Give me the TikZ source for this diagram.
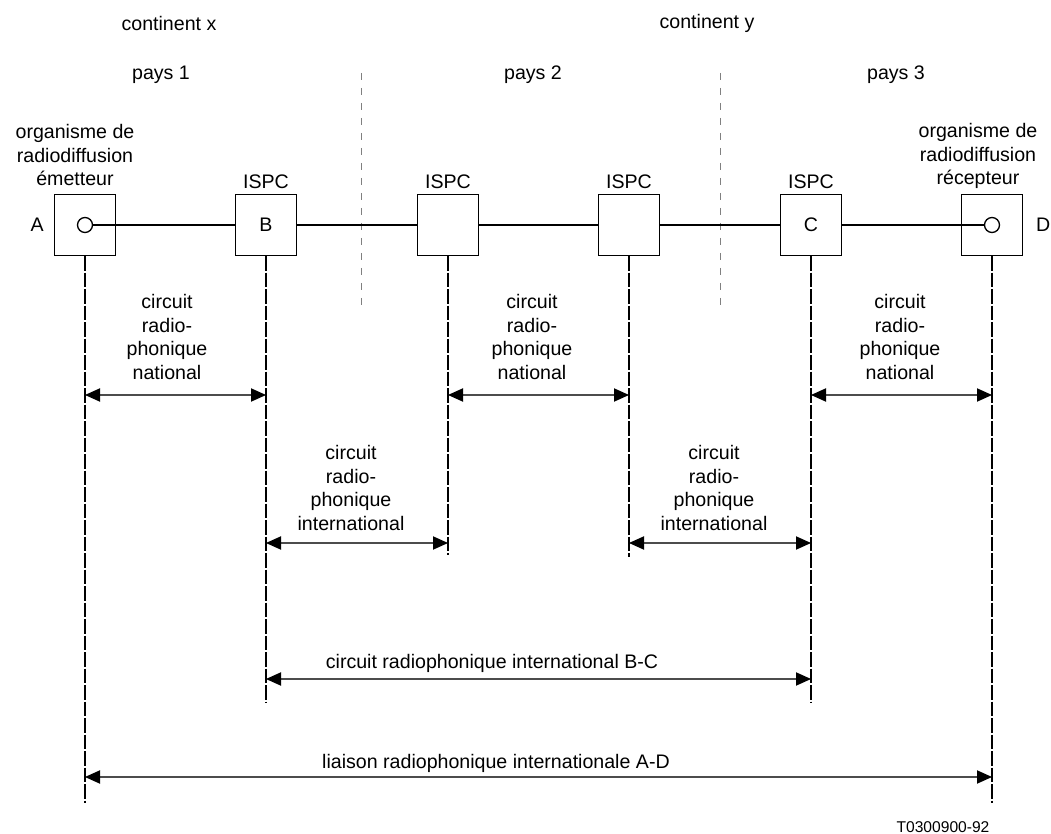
\documentclass[tikz,border=0pt]{standalone}
\usepackage{fontspec}
\setmainfont{Liberation Sans}
\usetikzlibrary{positioning,arrows.meta}

\tikzset{
  station/.style={draw, line width=0.65pt, minimum size=30.5pt, inner sep=0pt, fill=white},
  port/.style={draw, circle, line width=0.65pt, minimum size=7.5pt, inner sep=0pt, fill=white},
  feed/.style={line width=1pt},
  drop/.style={line width=1pt, dash pattern=on 7.25pt off 1pt},
  border/.style={gray, line width=0.5pt, dash pattern=on 3.5pt off 4pt},
  span/.style={{Triangle[length=7.5pt,width=6.6pt,color=black]}-{Triangle[length=7.5pt,width=6.6pt,color=black]}, line width=0.6pt, black!70},
  lbl/.style={align=center, inner sep=0pt},
}

\begin{document}
\begin{tikzpicture}[x=0.5pt, y=-0.5pt, font=\fontsize{9.8}{11.75}\selectfont]
\useasboundingbox (0,0) rectangle (1051,834);

% headings
\node (contX) at (169,23) {continent x};
\node (contY) at (707,23) {continent y};
\node (pays1) at (161,75) {pays 1};
\node (pays2) at (533,75) {pays 2};
\node (pays3) at (896,75) {pays 3};

% country borders
\draw[border] (361,73) -- (361,312);
\draw[border] (720,73) -- (720,312);

% stations
\node[station] (sA) at (85,225) {};
\node[station] (sB) at (266,225) {B};
\node[station] (sP) at (448,225) {};
\node[station] (sQ) at (629,225) {};
\node[station] (sC) at (811,225) {C};
\node[station] (sD) at (992,225) {};
\node[port] (oA) at (sA) {};
\node[port] (oD) at (sD) {};

\node[left=1.5pt of sA] (lblA) {A};
\node[right=3pt of sD] (lblD) {D};
\foreach \s in {sB,sP,sQ,sC}
  \node[above=-1pt of \s] (\s-top) {ISPC};
\node[lbl] (sender) at (75,155) {organisme de\\radiodiffusion\\émetteur};
\node[lbl] (receiver) at (978,156) {organisme de\\radiodiffusion\\récepteur};

% chain
\draw[feed] (oA) -- (sB) (sB) -- (sP) (sP) -- (sQ) (sQ) -- (sC) (sC) -- (oD);

% drop lines
\foreach \s/\y in {sA/803, sB/702, sP/555, sQ/557, sC/702, sD/803} {
  \coordinate (\s-end) at (\s.south |- 0,\y);
  \draw[drop] (\s.south) -- (\s-end);
}

% circuits
\draw[span] (sA |- 0,395) -- (sB |- 0,395);
\draw[span] (sP |- 0,395) -- (sQ |- 0,395);
\draw[span] (sC |- 0,395) -- (sD |- 0,395);
\draw[span] (sB |- 0,543) -- (sP |- 0,543);
\draw[span] (sQ |- 0,543) -- (sC |- 0,543);
\draw[span] (sB |- 0,679) -- (sC |- 0,679);
\draw[span] (sA |- 0,777) -- (sD |- 0,777);

\node[lbl] (nat1) at (167,337) {circuit\\radio-\\phonique\\national};
\node[lbl] (nat2) at (532,337) {circuit\\radio-\\phonique\\national};
\node[lbl] (nat3) at (900,337) {circuit\\radio-\\phonique\\national};
\node[lbl] (int1) at (351,488) {circuit\\radio-\\phonique\\international};
\node[lbl] (int2) at (714,488) {circuit\\radio-\\phonique\\international};
\node[lbl] (intBC) at (492,663) {circuit radiophonique international B-C};
\node[lbl] (linkAD) at (496,763) {liaison radiophonique internationale A-D};

\node[lbl, font=\fontsize{7.8}{9}\selectfont] (code) at (943,827) {T0300900-92};
\end{tikzpicture}
\end{document}
